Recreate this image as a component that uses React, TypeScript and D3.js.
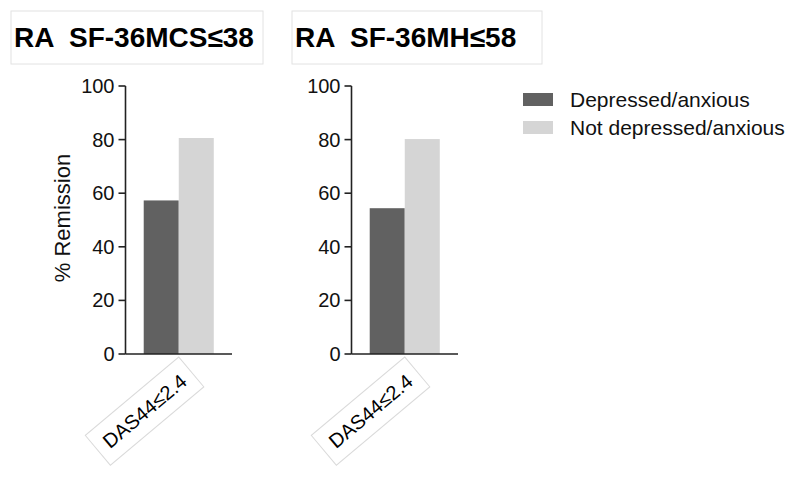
import React from "react";
import * as d3 from "d3";

const panelTitles = ["RA  SF-36MCS≤38", "RA  SF-36MH≤58"];
const categories = ["DAS44≤2.4"];
const seriesNames = ["Depressed/anxious", "Not depressed/anxious"];
const depressedValues = [57.3, 54.4];
const notDepressedValues = [80.6, 80.2];
const yTicks = [0, 20, 40, 60, 80, 100];
const yLabel = "% Remission";

const colors = ["#616161", "#d5d5d5"];
const FONT = "'Liberation Sans', Arial, Helvetica, sans-serif";

const panels = [
  { axisX: 125.5, endX: 232, titleX: 11, titleW: 252 },
  { axisX: 351.5, endX: 458, titleX: 292, titleW: 250 },
];

export default function App() {
  const y = d3.scaleLinear().domain([0, 100]).range([354, 86]);
  return (
    <svg width={800} height={480} style={{ position: "absolute", left: 0, top: 0, background: "#fff" }} fontFamily={FONT}>
      <rect width={800} height={480} fill="#fff" />
      {panels.map((p, pi) => {
        const x = d3.scaleBand<string>().domain(categories).range([p.axisX, p.endX]).paddingInner(0).paddingOuter(0.26);
        const values = [depressedValues[pi], notDepressedValues[pi]];
        return (
          <g key={pi}>
            <rect x={p.titleX} y={11} width={p.titleW} height={53} fill="#fff" stroke="#e2e2e2" strokeWidth={1} />
            <text x={p.titleX + 3} y={47} fontSize={28} fontWeight="bold" fill="#000" style={{ whiteSpace: "pre" }}>{panelTitles[pi]}</text>
            {categories.map((c) => {
              const x0 = x(c)!;
              const inner = d3.scaleBand<string>().domain(seriesNames).range([x0, x0 + x.bandwidth()]);
              const cx = x0 + x.bandwidth() / 2;
              return (
                <g key={c}>
                  {seriesNames.map((s, si) => (
                    <rect key={s} x={inner(s)!} y={y(values[si])} width={inner.bandwidth()} height={y(0) - y(values[si])} fill={colors[si]} />
                  ))}
                  <g transform={`translate(${cx},357) rotate(-40)`}>
                    <rect x={-122} y={0} width={122} height={39} fill="#fff" stroke="#dadada" strokeWidth={1} />
                    <text x={-61} y={19.5} textAnchor="middle" dominantBaseline="central" fontSize={20} fill="#000">{c}</text>
                  </g>
                </g>
              );
            })}
            <line x1={p.axisX} x2={p.axisX} y1={y(100)} y2={y(0)} stroke="#222" strokeWidth={1.6} />
            <line x1={p.axisX} x2={p.endX} y1={y(0)} y2={y(0)} stroke="#222" strokeWidth={1.6} />
            {yTicks.map((t) => (
              <g key={t}>
                <line x1={p.axisX - 7} x2={p.axisX} y1={y(t)} y2={y(t)} stroke="#222" strokeWidth={1.6} />
                <text x={p.axisX - 11} y={y(t)} textAnchor="end" dominantBaseline="central" fontSize={20} fill="#111">{t}</text>
              </g>
            ))}
          </g>
        );
      })}
      <text transform="translate(70,218) rotate(-90)" textAnchor="middle" fontSize={22} fill="#111">{yLabel}</text>
      {seriesNames.map((s, i) => (
        <g key={s} transform={`translate(523,${93 + i * 28})`}>
          <rect x={0} y={0} width={30} height={13} fill={colors[i]} />
          <text x={47} y={14} fontSize={21} fill="#111">{s}</text>
        </g>
      ))}
    </svg>
  );
}
